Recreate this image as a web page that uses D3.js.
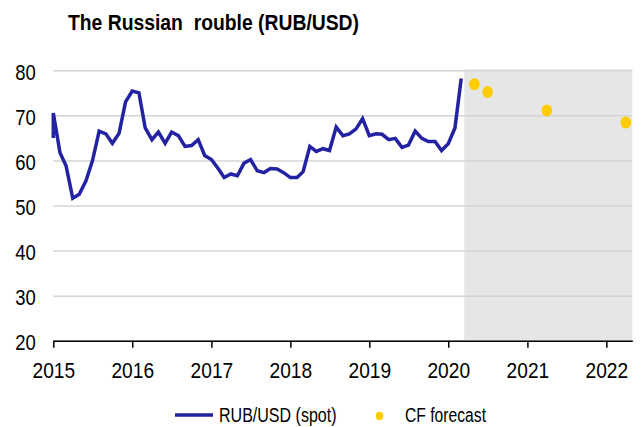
<!DOCTYPE html>
<html>
<head>
<meta charset="utf-8">
<script src="https://cdn.jsdelivr.net/npm/d3@7"></script>
<style>
  body { margin: 0; background: #fff; }
  text { font-family: "Liberation Sans", Arial, sans-serif; fill: #000; }
</style>
</head>
<body>
<div id="chart"></div>
<script>

// monthly spot rate, Jan 2015 .. Mar 2020 (first of month)
var spot_open   = 65.0   // where the line starts at the left edge
var spot_values = [
  70.5, 61.7, 58.8, 51.6, 52.5, 55.5, 59.9, 66.5, 65.9, 63.8, 66.0, 73.0,
  75.4, 75.0, 67.2, 64.6, 66.3, 63.8, 66.3, 65.5, 63.1, 63.3, 64.6, 61.1,
  60.2, 58.2, 56.2, 57.0, 56.6, 59.4, 60.2, 57.7, 57.3, 58.2, 58.1, 57.3,
  56.2, 56.2, 57.5, 63.1, 62.0, 62.6, 62.2, 67.4, 65.5, 65.9, 67.0, 69.3,
  65.5, 65.9, 65.8, 64.6, 64.9, 62.9, 63.4, 66.5, 64.9, 64.2, 64.2, 62.2,
  63.7, 67.2, 78.2
]
var forecast_dates  = ["2020-05-01", "2020-07-01", "2021-04-01", "2022-04-01"]
var forecast_values = [76.9, 75.2, 71.1, 68.4]
var y_ticks   = [20, 30, 40, 50, 60, 70, 80]
var x_years   = [2015, 2016, 2017, 2018, 2019, 2020, 2021, 2022]
var shade_from = "2020-03-15"

var W = 641, H = 427
var m = {left: 53.3, right: 632.3, top: 70.3, bottom: 340.7}

var parse = d3.timeParse("%Y-%m-%d")
var months = d3.timeMonth.range(new Date(2015, 0, 1), new Date(2020, 3, 1))
var spot = [{date: months[0], value: spot_open}]
for (var i = 0; i < spot_values.length; i++) {
  spot.push({date: months[i], value: spot_values[i]})
}
var forecast = forecast_dates.map(function(d, i) {
  return {date: parse(d), value: forecast_values[i]}
})

var x = d3.scaleTime().domain([new Date(2015, 0, 1), new Date(2022, 4, 1)]).range([m.left, m.right])
var y = d3.scaleLinear().domain([20, 80]).range([m.bottom, m.top])

// the original uses a condensed face; squeeze the text horizontally
function narrow(sel, ratio) {
  sel.each(function() {
    var w = this.getComputedTextLength()
    d3.select(this).attr("textLength", w * ratio).attr("lengthAdjust", "spacingAndGlyphs")
  })
}

var svg = d3.select("#chart").append("svg").attr("width", W).attr("height", H)

svg.append("text")
  .attr("x", 68).attr("y", 29.5)
  .attr("font-size", 21.5).attr("font-weight", "bold")
  .style("white-space", "pre")
  .attr("textLength", 291).attr("lengthAdjust", "spacingAndGlyphs")
  .text("The Russian  rouble (RUB/USD)")

// forecast area
var sx = x(parse(shade_from))
svg.append("rect")
  .attr("x", sx).attr("y", m.top - 1)
  .attr("width", m.right - sx).attr("height", m.bottom - m.top + 1)
  .attr("fill", "#e6e6e6")

// gridlines
svg.append("g")
  .attr("transform", "translate(" + m.left + ",0)")
  .call(d3.axisLeft(y).tickValues(y_ticks).tickSize(-(m.right - m.left)).tickFormat(""))
  .call(function(g) { g.select(".domain").remove() })
  .selectAll("line").attr("stroke", "#d4d4d4").attr("stroke-width", 1.5)

// y labels
var yAxis = svg.append("g")
  .attr("transform", "translate(" + m.left + ",0)")
  .call(d3.axisLeft(y).tickValues(y_ticks).tickSize(0).tickPadding(17.6))
yAxis.select(".domain").remove()
yAxis.selectAll("text").attr("font-size", 22).attr("dy", "0.40em").call(narrow, 0.84)
svg.selectAll(".tick text").attr("font-family", null)

// x axis
var xAxis = svg.append("g")
  .attr("transform", "translate(0," + m.bottom + ")")
  .call(d3.axisBottom(x)
    .tickValues(x_years.map(function(yr) { return new Date(yr, 0, 1) }))
    .tickFormat(d3.timeFormat("%Y"))
    .tickSize(7).tickSizeOuter(0).tickPadding(14.5))
xAxis.select(".domain").attr("stroke", "#000").attr("stroke-width", 1.5)
xAxis.selectAll("line").attr("stroke", "#000").attr("stroke-width", 1.5)
xAxis.selectAll("text").attr("font-size", 22).attr("font-family", null).call(narrow, 0.87)

var line = d3.line()
  .x(function(d) { return x(d.date) })
  .y(function(d) { return y(d.value) })

svg.append("path")
  .datum(spot)
  .attr("d", line)
  .attr("fill", "none")
  .attr("stroke", "#2222a2")
  .attr("stroke-width", 3.5)

svg.selectAll(".fc").data(forecast).enter()
  .append("ellipse")
  .attr("class", "fc")
  .attr("cx", function(d) { return x(d.date) })
  .attr("cy", function(d) { return y(d.value) })
  .attr("rx", 5.3).attr("ry", 6)
  .attr("fill", "#ffcc00")

// legend
var lg = svg.append("g").attr("transform", "translate(0,415)")
lg.append("line").attr("x1", 175).attr("x2", 213).attr("y1", 0).attr("y2", 0)
  .attr("stroke", "#2222a2").attr("stroke-width", 3.5)
lg.append("text").attr("x", 219).attr("y", 0).attr("dy", "0.36em")
  .attr("font-size", 20).attr("textLength", 117.5).attr("lengthAdjust", "spacingAndGlyphs")
  .text("RUB/USD (spot)")
lg.append("ellipse").attr("cx", 379.5).attr("cy", 1).attr("rx", 3.8).attr("ry", 4.2)
  .attr("fill", "#ffcc00")
lg.append("text").attr("x", 405).attr("y", 0).attr("dy", "0.36em")
  .attr("font-size", 20).attr("textLength", 81).attr("lengthAdjust", "spacingAndGlyphs")
  .text("CF forecast")

</script>
</body>
</html>
